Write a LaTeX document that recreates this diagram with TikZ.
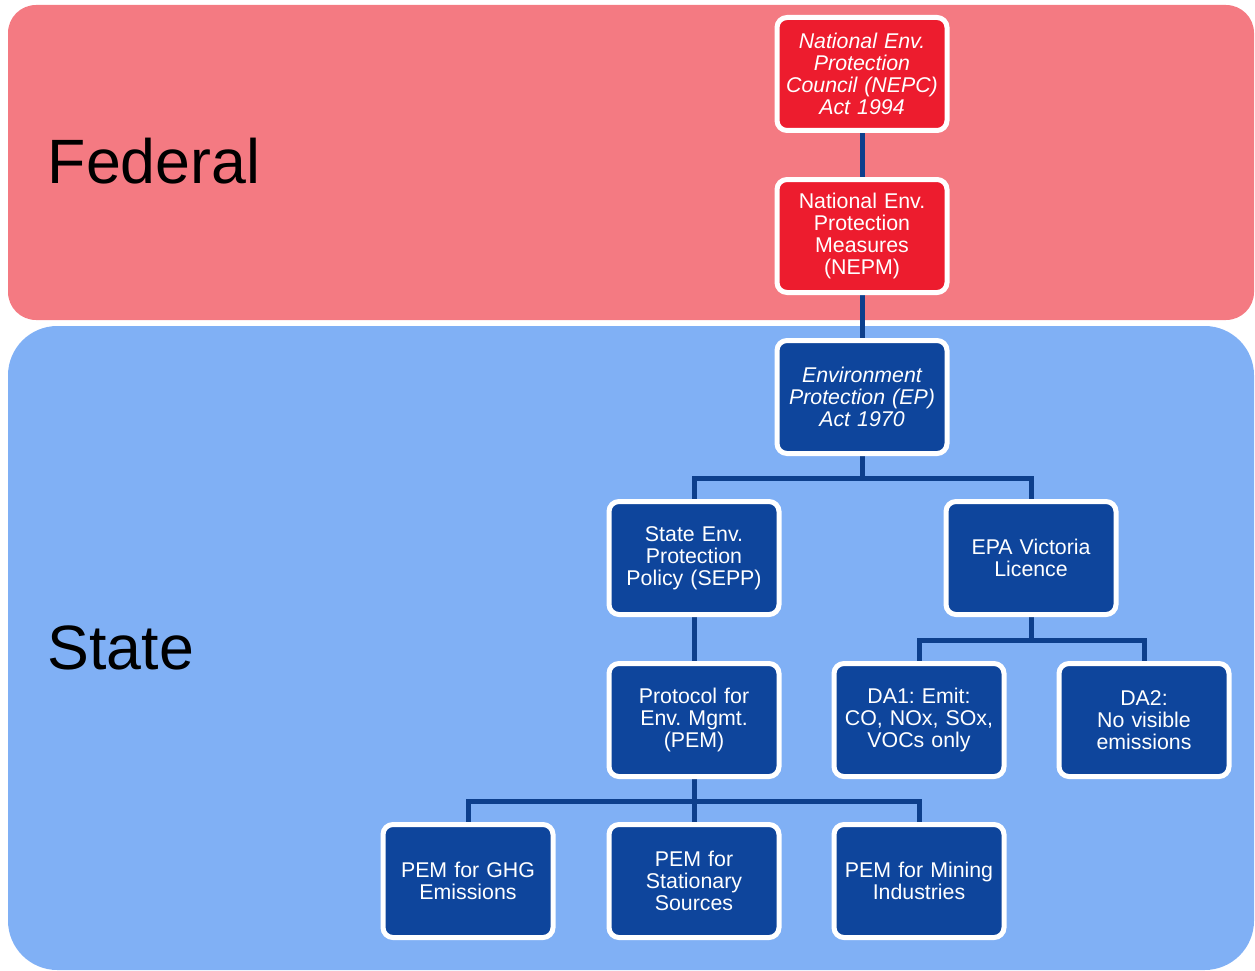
\documentclass[tikz,border=0pt]{standalone}
\usepackage{fontspec}
\setmainfont{Liberation Sans}
\frenchspacing
\definecolor{fedbg}{HTML}{F47A82}
\definecolor{statebg}{HTML}{80B0F5}
\definecolor{nodered}{HTML}{ED1C2E}
\definecolor{nodeblue}{HTML}{0E459C}
\definecolor{linkblue}{HTML}{0D3F8C}
\pgfdeclarelayer{back}
\pgfdeclarelayer{mid}
\pgfsetlayers{back,mid,main}
\begin{document}
\begin{tikzpicture}[x=0.75pt,y=-0.75pt,
  box/.style={draw=white, line width=3.75pt, rounded corners=7.5pt,
    minimum width=127.5pt, minimum height=84.75pt, inner sep=0pt,
    text width=125pt, align=center, text=white,
    font=\fontsize{16}{16.5}\selectfont},
  fedbox/.style={box, fill=nodered},
  statebox/.style={box, fill=nodeblue},
  link/.style={draw=linkblue, line width=3.75pt},
  level/.style={anchor=base west, text=black, font=\fontsize{47}{47}\selectfont}]
\useasboundingbox (0,0) rectangle (1255,970);
\begin{pgfonlayer}{back}
  \fill[fedbg, rounded corners=21pt] (8,5) rectangle (1254,320);
  \fill[statebg, rounded corners=37pt] (8,326) rectangle (1254,970);
\end{pgfonlayer}

\node[level] (fed) at (43,183) {Federal};
\node[level] (st) at (43,669) {State};

\node[fedbox] (nepc) at (862,74) {\itshape National Env.\\Protection\\Council (NEPC)\\Act 1994};
\node[fedbox] (nepm) at (862,236) {National Env.\\Protection\\Measures\\(NEPM)};
\node[statebox] (ep) at (862,397) {\itshape Environment\\Protection (EP)\\Act 1970};
\node[statebox] (sepp) at (694,558) {State Env.\\Protection\\Policy (SEPP)};
\node[statebox] (epa) at (1031,558) {EPA Victoria\\Licence};
\node[statebox] (pem) at (694,720) {Protocol for\\Env. Mgmt.\\(PEM)};
\node[statebox] (da1) at (919,720) {DA1: Emit:\\CO, NOx, SOx,\\VOCs only};
\node[statebox] (da2) at (1144,720) {DA2:\\No visible\\emissions};
\node[statebox] (ghg) at (468,881) {PEM for GHG\\Emissions};
\node[statebox] (stat) at (694,881) {PEM for\\Stationary\\Sources};
\node[statebox] (mine) at (919,881) {PEM for Mining\\Industries};

\coordinate (b1) at (862,478);
\coordinate (b2) at (1031,640);
\coordinate (b3) at (694,801);

\begin{pgfonlayer}{mid}
  \draw[link] (nepc.south) -- (nepm.north);
  \draw[link] (nepm.south) -- (ep.north);
  \draw[link] (ep.south) -- (b1) -| (sepp.north);
  \draw[link] (b1) -| (epa.north);
  \draw[link] (sepp.south) -- (pem.north);
  \draw[link] (epa.south) -- (b2) -| (da1.north);
  \draw[link] (b2) -| (da2.north);
  \draw[link] (pem.south) -- (b3) -| (ghg.north);
  \draw[link] (b3) -- (stat.north);
  \draw[link] (b3) -| (mine.north);
\end{pgfonlayer}
\end{tikzpicture}
\end{document}
